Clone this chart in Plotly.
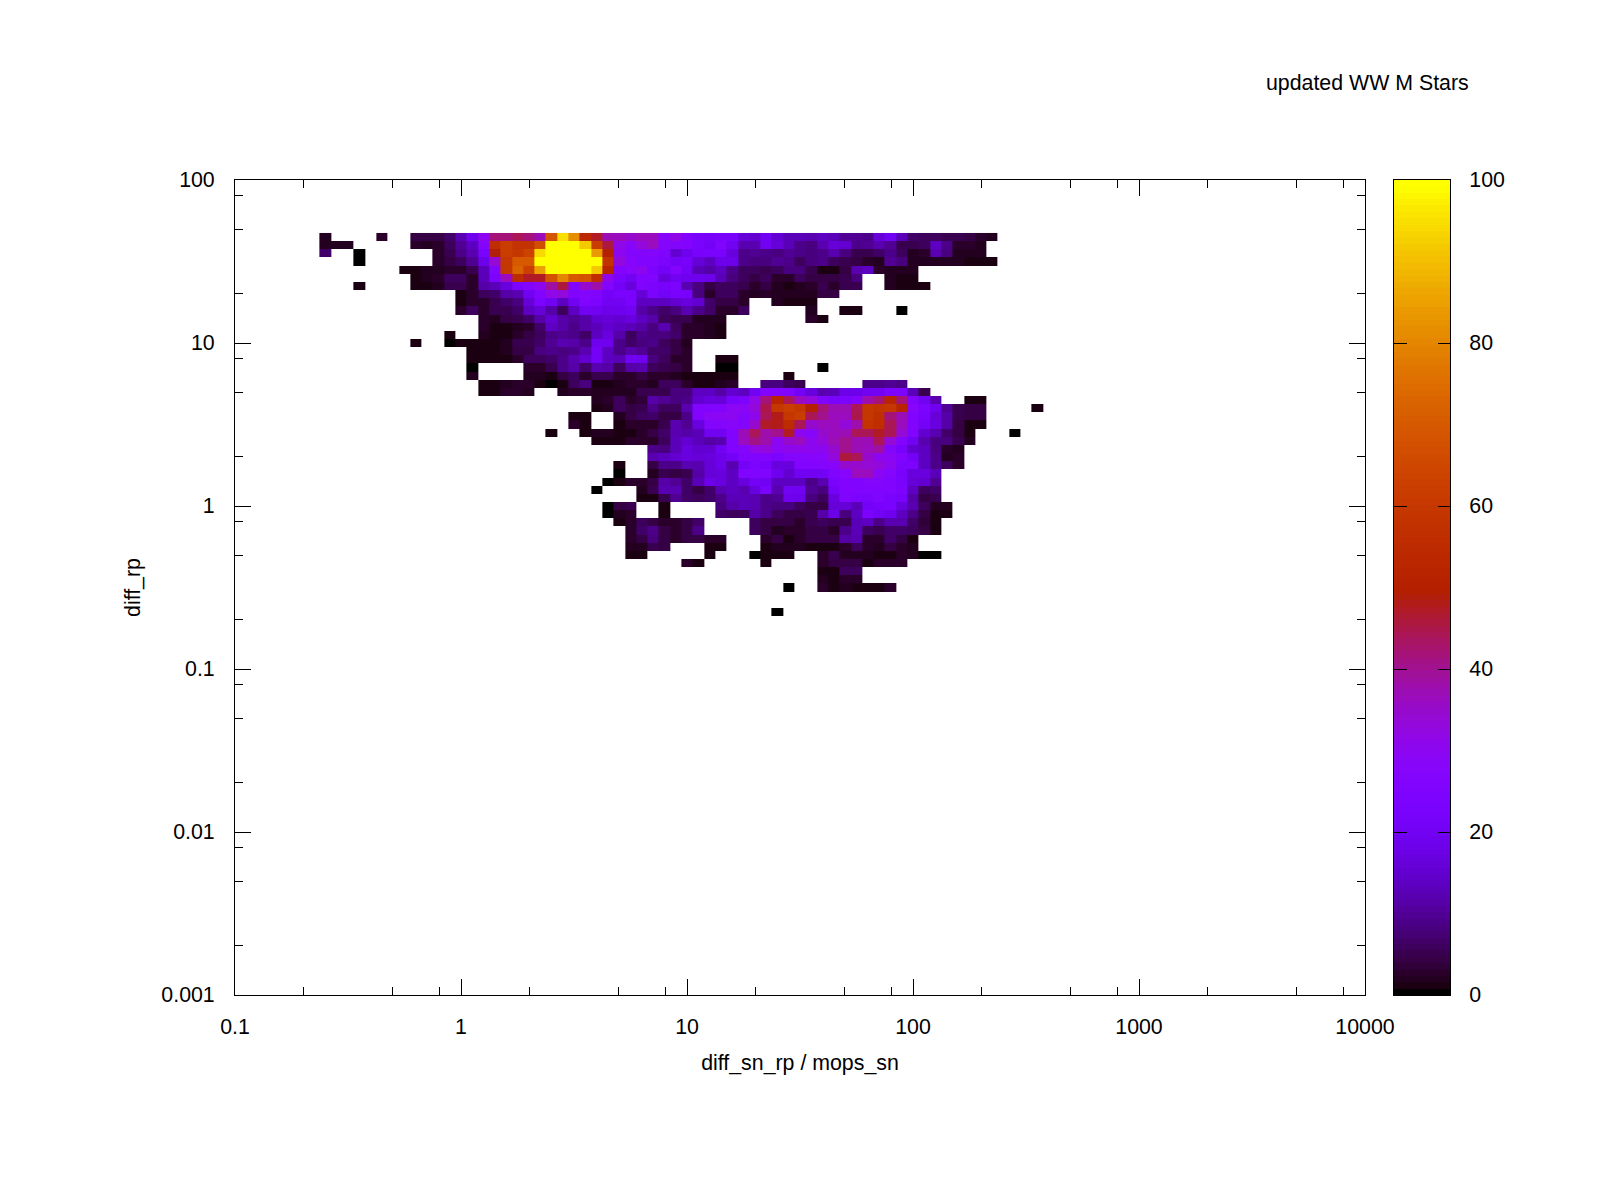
import numpy as np
import plotly.graph_objects as go

_ = None

# histogram rows, top to bottom; first row is 7 bins below the 100 line, 20 bins per decade
row_07 = [_]*8 + [2,_,_,_,_,3,_,_,4,4,4,7,12,19,30,42,42,44,42,37,69,95,82,54,47,37,36,35,36,36,28,32,26,23,22,23,23,16,15,20,15,13,13,12,14,13,10,10,9,16,20,13,7,6,6,5,5,4,3,2]
row_08 = [_]*8 + [2,2,2,_,_,_,_,_,3,2,3,6,10,14,27,56,62,58,58,67,100,100,100,92,62,46,32,28,33,36,27,27,26,23,21,25,20,12,12,20,16,13,9,8,12,16,15,9,10,12,10,5,5,6,14,9,3,3,2]
row_09 = [_]*8 + [7,_,_,0.5,_,_,_,_,_,_,3,5,9,12,23,49,62,60,64,94,100,100,100,100,84,50,30,27,27,27,25,15,19,22,23,23,17,9,10,9,8,10,9,8,9,12,8,5,5,7,9,6,2,3,12,8,2,2,2]
row_10 = [_]*11 + [0.5,_,_,_,_,_,_,3,4,6,10,18,34,60,70,70,100,100,100,100,100,100,58,33,28,25,25,24,21,22,16,14,18,18,9,8,8,10,9,6,8,9,6,5,4,3,2,10,8,2,2,2,2,2,1,1,1]
row_11 = [_]*15 + [1.5,1.5,2,2,3,3,5,13,25,60,72,63,85,100,100,100,100,92,52,26,28,30,24,21,26,21,13,11,14,9,6,6,5,6,8,8,5,1.5,1.5,4,12,14,3,2,2,2]
row_12 = [_]*16 + [1.5,2,3,6,6,3,13,24,36,55,47,47,68,80,70,68,56,31,23,20,26,25,17,20,19,19,18,13,8,6,4,6,3,3,6,4,4,4,5,8,_,_,2,1.5,1.5]
row_13 = [_]*11 + [1,_,_,_,_,1.5,1.5,2,5,5,3,11,13,17,24,27,30,39,46,26,35,38,27,21,17,25,24,22,24,12,8,4,6,6,5,3,4,2,1.5,2,3,5,3,5,5,_,_,2,1.5,1,0.8]
row_14 = [_]*20 + [1.5,3,6,7,11,12,20,26,32,33,25,27,25,21,23,23,16,24,21,23,22,8,3,6,6,3,2,3,2,2,2,2,4,4]
row_15 = [_]*20 + [1.5,3,3,5,7,8,16,24,20,14,20,25,24,20,20,23,14,14,14,15,17,15,7,4,4,3,_,_,2,1.5,1,1]
row_16 = [_]*20 + [3,6,3,5,5,7,14,16,11,6,14,20,20,18,19,20,11,9,7,8,12,9,7,3,3,6,_,_,_,_,_,2,_,_,1.5,1,_,_,_,0.5]
row_17 = [_]*22 + [3,2,4,5,7,11,15,11,10,11,15,16,15,17,14,11,6,5,5,2,2,2,_,_,_,_,_,_,_,3,1.5]
row_18 = [_]*22 + [3,1,1,2,2.5,7,14,11,9,11,13,15,14,13,11,8,12,6,3,3,2,1]
row_19 = [_]*19 + [1,_,_,2,1,1,3,4,6,9,10,9,7,14,17,11,6,9,8,8,7,3,3,2,1.5]
row_20 = [_]*16 + [1.5,_,_,0.5,1,0.8,0.8,1.5,2,5,5,7,10,12,11,9,19,19,9,7,8,9,6,4,2]
row_21 = [_]*21 + [1.5,1,1.5,2,4,4,8,9,8,9,12,21,14,9,11,10,7,7,4,3]
row_22 = [_]*21 + [1,0.8,0.8,0.8,3,6,6,7,9,12,15,21,14,13,20,19,8,6,3,3,_,_,0.8,0.8]
row_23 = [_]*21 + [0.5,_,_,_,_,3,3,5,9,11,7,12,11,6,11,12,6,5,4,3,_,_,0.5,0.5,_,_,_,_,_,_,_,0.2]
row_24 = [_]*21 + [2,_,_,_,_,2,2,1.5,4,6,3,5,5,3,3,4,3,3,2,1,1,1.5,0.8,1,_,_,_,_,1]
row_25 = [_]*22 + [1.5,1,2,3,2.5,1,0.3,1,6,8,1.5,1,2,3,3,2,6,6,3,1.5,1.5,2,3,_,_,8,8,6,5,_,_,_,_,_,9,9,10,9]
row_26 = [_]*22 + [1.5,1,3,3,2,_,_,2,3,3,2,2,2,2,5,5,5,8,8,14,14,11,15,14,20,26,26,25,21,17,12,13,18,18,20,20,24,24,13,5]
row_27 = [_]*32 + [2,2.5,6,3,3.5,11,10,8,9,15,17,16,22,24,32,42,52,44,36,33,25,23,24,26,38,42,52,42,26,20,12,_,_,1.5,1.5]
row_28 = [_]*32 + [0.8,2,6,4,5,9,6,6,12,25,25,26,29,29,33,45,60,62,60,50,42,37,37,44,60,58,60,52,28,24,19,10,5,4,4,_,_,_,_,0.8]
row_29 = [_]*30 + [1.5,1,_,_,2,4,6,7,4,4,9,26,29,29,30,27,31,44,48,60,62,44,40,36,36,45,60,57,42,37,26,22,16,11,5,4,4]
row_30 = [_]*30 + [3,1,_,_,1.5,3,3,3,5,12,10,17,27,27,28,27,35,47,48,55,44,35,36,36,33,38,58,56,44,36,26,21,17,11,4,1.5,1.5]
row_31 = [_]*28 + [0.8,_,_,1.5,2,2,1,1,3,4,7,12,11,13,20,20,26,37,44,38,40,47,30,28,35,36,37,44,44,47,44,34,25,15,12,7,4,1,_,_,_,0.3]
row_32 = [_]*32 + [1.5,1,1,3,3,3,6,13,15,13,11,12,25,36,41,38,30,35,36,30,33,37,40,37,37,44,34,26,20,12,8,8,5,2]
row_33 = [_]*37 + [9,8,13,17,15,15,20,25,27,32,33,29,31,31,30,30,35,40,37,36,39,27,22,15,14,8,3,2]
row_34 = [_]*37 + [12,14,15,17,16,17,18,21,25,25,26,24,27,27,28,28,33,46,44,35,30,29,26,21,14,9,2,2.5]
row_35 = [_]*34 + [1.5,_,_,4,9,9,12,12,16,18,12,21,24,22,17,17,26,26,27,28,35,35,34,33,30,24,24,14,9,6,3]
row_36 = [_]*34 + [0.5,_,_,2,5,4,5,11,16,17,14,25,25,25,19,15,20,20,21,25,28,36,36,29,27,22,17,17,13]
row_37 = [_]*33 + [0.5,1,3,3,4,11,10,7,13,18,17,14,17,21,20,14,14,14,9,12,23,26,25,27,27,25,23,16,15,10]
row_38 = [_]*32 + [0.5,_,_,_,2,5,12,12,7,4,7,12,14,12,17,23,12,20,20,10,8,21,26,25,25,25,25,24,14,6,7]
row_39 = [_]*36 + [1,1.5,5,10,7,6,7,9,13,13,12,9,10,19,18,8,6,17,25,24,23,25,23,22,11,4,5]
row_40 = [_]*33 + [0.5,4,5,_,_,1,_,_,_,_,8,11,13,12,9,8,8,6,4,4,16,16,13,21,22,23,17,12,6,2,2]
row_41 = [_]*33 + [0.5,2,3,_,_,0.8,_,_,_,_,7,6,6,11,9,6,4,4,5,11,18,8,14,24,21,19,14,9,4,1.5,1]
row_42 = [_]*34 + [1.5,3,6,4,3,3,4,7,_,_,_,_,6,4,4,4,3,5,6,5,5,13,14,9,12,12,7,3.5,1.5]
row_43 = [_]*35 + [2.5,7,9,4,3,4,9,_,_,_,_,6,4,2,2.5,2.5,4,4,3,9,13,6,5,7,7,6,4,0.8]
row_44 = [_]*35 + [2.5,4,8,4,2.5,4,4,3,3,_,_,_,3,4,1.5,3,4,4,4,11,12,3,3,7,4,1.5]
row_45 = [_]*35 + [2,2,5,4,_,_,_,1.5,0.8,_,_,_,0.8,2,2,2,1.5,1.5,1,3,6,3,2,4,3,2]
row_46 = [_]*35 + [1.5,1.5,_,_,_,_,_,1,_,_,_,0.5,0.8,1,1.5,_,_,3,5,2,2,2,1.5,0.8,2.5,2,0.5,0.3]
row_47 = [_]*40 + [3,1,_,_,_,_,_,0.8,_,_,_,_,3,4,4,4,1.5,2.5,3,3]
row_48 = [_]*52 + [1,1.5,6,6]
row_49 = [_]*52 + [2,1,2.5,2.5]
row_50 = [_]*49 + [0.2,_,_,3,1,2,1.5,0.8,1,3]
row_51 = []
row_52 = []
row_53 = [_]*48 + [0.5]

all_rows = [row_07, row_08, row_09, row_10, row_11, row_12, row_13, row_14, row_15, row_16,
            row_17, row_18, row_19, row_20, row_21, row_22, row_23, row_24, row_25, row_26,
            row_27, row_28, row_29, row_30, row_31, row_32, row_33, row_34, row_35, row_36,
            row_37, row_38, row_39, row_40, row_41, row_42, row_43, row_44, row_45, row_46,
            row_47, row_48, row_49, row_50, row_51, row_52, row_53]

major_x = [0.1, 1, 10, 100, 1000, 10000]
major_x_text = ["0.1", "1", "10", "100", "1000", "10000"]
major_y = [0.001, 0.01, 0.1, 1, 10, 100]
major_y_text = ["0.001", "0.01", "0.1", "1", "10", "100"]
cb_ticks = [0, 20, 40, 60, 80, 100]

BLACK = "#000000"
FONT = "Liberation Sans"
FS = 21.33

# page pixel positions of the frames
LEFT, RIGHT, TOP, BOTTOM = 235, 1365, 180, 995.5
CB_LEFT, CB_RIGHT = 1394, 1450
BODY = 8  # default page margin round the plot div
W, H = 1584, 1184
span = CB_RIGHT - LEFT


def palette(n=128):
    # gnuplot rgbformulae 7,5,15, in n flat steps
    stops = []
    for k in range(n):
        t = min(1, (k + 0.5) / (n - 1)) if k else 0
        r = np.sqrt(t)
        g = t ** 3
        b = np.clip(np.sin(2 * np.pi * t), 0, 1)
        c = f"rgb({int(r*255)},{int(g*255)},{int(b*255)})"
        stops.append([k / n, c])
        stops.append([(k + 1) / n, c])
    return stops


def minor_ticks(lo, hi):
    return [m * 10.0 ** e for e in range(lo, hi) for m in (2, 5, 8)]


n_cols = max(len(r) for r in all_rows)
z = [r + [None] * (n_cols - len(r)) for r in all_rows]
z = z[::-1]  # bottom row first
x_edges = [10 ** (-1 + (i - 0.5) / 20) for i in range(n_cols + 1)]
y_edges = [10 ** (2 - (7 + len(all_rows) - k - 0.5) / 20) for k in range(len(all_rows) + 1)]

levels = np.linspace(0, 100, 128)
cscale = palette()

fig = go.Figure()
fig.add_trace(go.Heatmap(x=x_edges, y=y_edges, z=z, zmin=0, zmax=100, colorscale=cscale,
                         showscale=False, hoverongaps=False, xaxis="x", yaxis="y"))
# colour key on its own axes, gnuplot puts ticks on both of its sides
fig.add_trace(go.Heatmap(x=[0, 1], y=np.linspace(0, 100, 129), z=[[v] for v in levels],
                         zmin=0, zmax=100, colorscale=cscale, showscale=False,
                         xaxis="x2", yaxis="y2"))

axis_common = dict(showgrid=False, zeroline=False, showline=True, linecolor=BLACK, linewidth=1,
                   ticks="inside", ticklen=16, tickwidth=1, tickcolor=BLACK, mirror="ticks",
                   tickfont=dict(family=FONT, size=FS, color=BLACK), layer="above traces")

fig.update_layout(
    width=W,
    height=H,
    margin=dict(l=LEFT - BODY, r=W - (CB_RIGHT - BODY), t=TOP - BODY, b=H - (BOTTOM - BODY), pad=0),
    paper_bgcolor="white",
    plot_bgcolor="white",
    showlegend=False,
    font=dict(family=FONT, size=FS, color=BLACK),
    xaxis=dict(type="log", range=[-1, 4], domain=[0, (RIGHT - LEFT) / span], anchor="y",
               tickmode="array", tickvals=major_x, ticktext=major_x_text, ticklabelstandoff=12,
               minor=dict(tickmode="array", tickvals=minor_ticks(-1, 4), ticks="inside", ticklen=8,
                          tickwidth=1, tickcolor=BLACK, showgrid=False),
               title=dict(text="diff_sn_rp / mops_sn", standoff=17, font=dict(family=FONT, size=FS)),
               **axis_common),
    yaxis=dict(type="log", range=[-3, 2], domain=[0, 1], anchor="x",
               tickmode="array", tickvals=major_y, ticktext=major_y_text, ticklabelstandoff=15,
               minor=dict(tickmode="array", tickvals=minor_ticks(-3, 2), ticks="inside", ticklen=8,
                          tickwidth=1, tickcolor=BLACK, showgrid=False),
               title=dict(text="diff_rp", standoff=14, font=dict(family=FONT, size=FS)),
               **axis_common),
    xaxis2=dict(range=[0, 1], domain=[(CB_LEFT - LEFT) / span, 1], anchor="y2", showgrid=False,
                zeroline=False, showticklabels=False, ticks="", showline=True, linecolor=BLACK,
                linewidth=1, mirror=True),
    yaxis2=dict(range=[0, 100], domain=[0, 1], anchor="x2", side="right", showgrid=False,
                zeroline=False, tickmode="array", tickvals=cb_ticks, ticks="inside", ticklen=12.5,
                tickwidth=1, tickcolor=BLACK, showline=True, linecolor=BLACK, linewidth=1,
                mirror="ticks", ticklabelstandoff=14, layer="above traces",
                tickfont=dict(family=FONT, size=FS, color=BLACK)),
    annotations=[dict(text="updated WW M Stars", xref="paper", yref="paper",
                      x=(1471 - LEFT) / span, y=(BOTTOM - 83) / (BOTTOM - TOP),
                      xanchor="right", yanchor="middle", showarrow=False,
                      font=dict(family=FONT, size=FS, color=BLACK))],
)

fig.write_html("out.html")
